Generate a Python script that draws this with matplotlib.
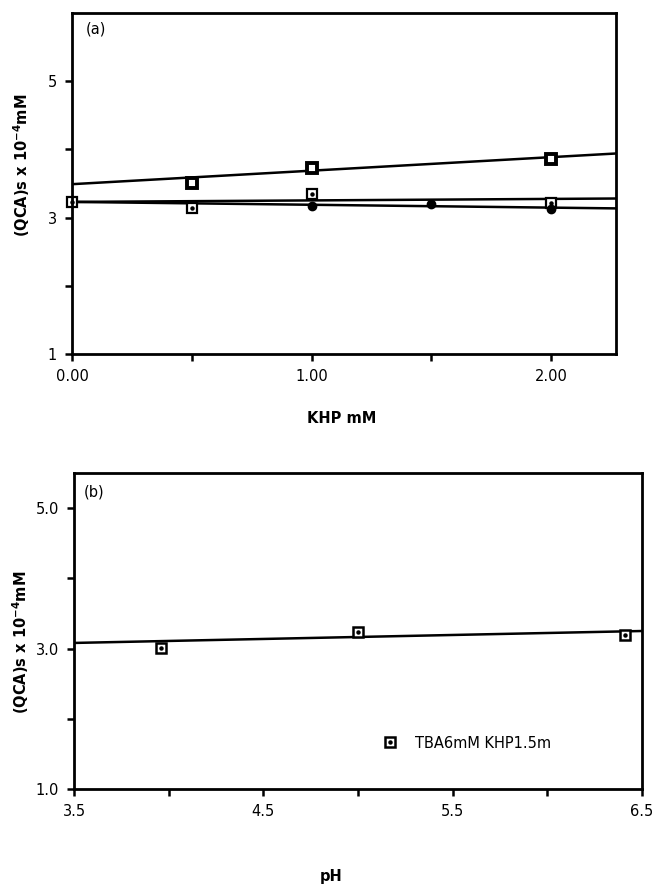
import matplotlib
matplotlib.use("Agg")
import matplotlib.pyplot as plt
from matplotlib.ticker import FixedLocator
from matplotlib.legend_handler import HandlerTuple

# ---------------- data: panel (a) ----------------
khp_upper = [0.5, 1.0, 2.0]
qca_upper = [3.51, 3.73, 3.86]

khp_open = [0.0, 0.5, 1.0, 2.0]
qca_open = [3.23, 3.14, 3.34, 3.21]

khp_filled = [1.0, 1.5, 2.0]
qca_filled = [3.17, 3.20, 3.12]

fit_x_a = [0.0, 2.27]
fit_upper = [3.49, 3.94]
fit_open = [3.23, 3.28]
fit_filled = [3.23, 3.135]

xticks_a = [0.0, 1.0, 2.0]
xtick_labels_a = ["0.00", "1.00", "2.00"]
yticks_a = [1, 3, 5]
ytick_labels_a = ["1", "3", "5"]

# ---------------- data: panel (b) ----------------
ph_vals = [3.96, 5.0, 6.41]
qca_ph = [3.01, 3.23, 3.19]
fit_x_b = [3.5, 6.5]
fit_ph = [3.08, 3.25]

xticks_b = [3.5, 4.5, 5.5, 6.5]
xtick_labels_b = ["3.5", "4.5", "5.5", "6.5"]
yticks_b = [1.0, 3.0, 5.0]
ytick_labels_b = ["1.0", "3.0", "5.0"]
legend_label = "TBA6mM KHP1.5m"

ylabel_text = r"(QCA)s x 10$^{\mathbf{-4}}$mM"

W, H = 656, 886
plt.rcParams['font.family'] = ['DejaVu Sans']
fig = plt.figure(figsize=(W / 100, H / 100), dpi=100)

ax1 = fig.add_axes([72 / W, 1 - 354 / H, (616 - 72) / W, (354 - 13) / H])
ax2 = fig.add_axes([74 / W, 1 - 789 / H, (642 - 74) / W, (789 - 473) / H])

for ax in (ax1, ax2):
    for sp in ax.spines.values():
        sp.set_linewidth(2.0)
    ax.tick_params(direction='out', width=1.8, length=5, labelsize=10.5, pad=6)
    ax.tick_params(which='minor', direction='out', width=1.8, length=5)

# ---------- panel (a) ----------
ax1.plot(fit_x_a, fit_upper, color='black', lw=1.8)
ax1.plot(fit_x_a, fit_open, color='black', lw=1.8)
ax1.plot(fit_x_a, fit_filled, color='black', lw=1.8)
ax1.plot(khp_upper, qca_upper, ls='none', marker='s', ms=7, mfc='white', mec='black', mew=2.8, clip_on=False)
ax1.plot(khp_upper, qca_upper, ls='none', marker='o', ms=1.8, mfc='white', mec='white', clip_on=False)
ax1.plot(khp_open, qca_open, ls='none', marker='s', ms=7.5, mfc='white', mec='black', mew=1.6, clip_on=False)
ax1.plot(khp_open, qca_open, ls='none', marker='o', ms=2.2, mfc='black', mec='black', clip_on=False)
ax1.plot(khp_filled, qca_filled, ls='none', marker='o', ms=6, mfc='black', mec='black', clip_on=False)

ax1.set_xlim(0, 2.27)
ax1.set_ylim(1, 6)
ax1.xaxis.set_major_locator(FixedLocator(xticks_a))
ax1.set_xticklabels(xtick_labels_a)
ax1.xaxis.set_minor_locator(FixedLocator([0.5, 1.5]))
ax1.yaxis.set_major_locator(FixedLocator(yticks_a))
ax1.set_yticklabels(ytick_labels_a)
ax1.yaxis.set_minor_locator(FixedLocator([2, 4]))
ax1.text(0.025, 0.975, "(a)", transform=ax1.transAxes, fontsize=10.5, va='top', ha='left')

fig.text(342 / W, 1 - 419 / H, "KHP mM", fontweight='bold', fontsize=10.5, ha='center', va='center')
fig.text(22 / W, 1 - 165 / H, ylabel_text, fontweight='bold', fontsize=10.5,
         rotation=90, ha='center', va='center')

# ---------- panel (b) ----------
ax2.plot(fit_x_b, fit_ph, color='black', lw=1.8)
sq = ax2.plot(ph_vals, qca_ph, ls='none', marker='s', ms=7.5, mfc='white', mec='black', mew=1.8, clip_on=False)[0]
dot = ax2.plot(ph_vals, qca_ph, ls='none', marker='o', ms=2.2, mfc='black', mec='black', clip_on=False)[0]
ax2.set_xlim(3.5, 6.5)
ax2.set_ylim(1.0, 5.5)
ax2.xaxis.set_major_locator(FixedLocator(xticks_b))
ax2.set_xticklabels(xtick_labels_b)
ax2.xaxis.set_minor_locator(FixedLocator([4.0, 5.0, 6.0]))
ax2.yaxis.set_major_locator(FixedLocator(yticks_b))
ax2.set_yticklabels(ytick_labels_b)
ax2.yaxis.set_minor_locator(FixedLocator([2.0, 4.0]))
ax2.text(0.017, 0.965, "(b)", transform=ax2.transAxes, fontsize=10.5, va='top', ha='left')
ax2.legend([(sq, dot)], [legend_label], handler_map={tuple: HandlerTuple(ndivide=1)},
           loc='lower left', bbox_to_anchor=(0.52, 0.08), frameon=False, fontsize=10.5,
           handlelength=1.0, handletextpad=1.2)

fig.text(331 / W, 1 - 877 / H, "pH", fontweight='bold', fontsize=10.5, ha='center', va='center')
fig.text(21 / W, 1 - 642 / H, ylabel_text, fontweight='bold', fontsize=10.5,
         rotation=90, ha='center', va='center')

fig.savefig("out.png", dpi=100)
